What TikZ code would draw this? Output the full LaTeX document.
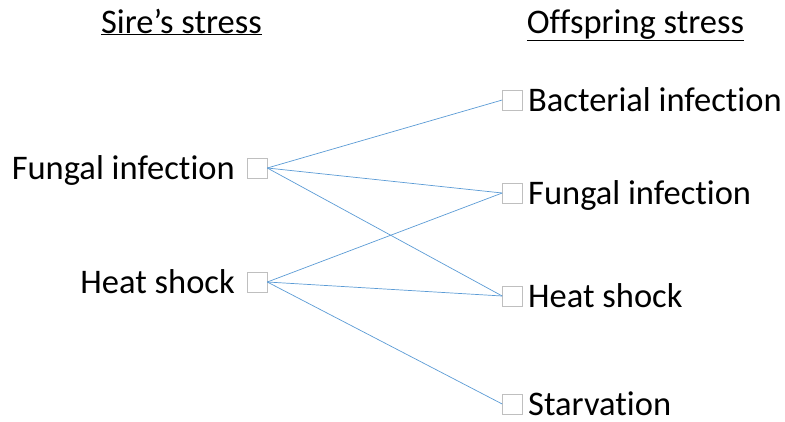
\documentclass[tikz,border=0pt]{standalone}
\usepackage{fontspec}
\setmainfont[Ligatures=NoCommon,RawFeature={-liga;-clig;-dlig;-calt}]{Carlito}
\begin{document}
\begin{tikzpicture}[x=1pt,y=-1pt,
  sq/.style={draw=black!25,fill=white,minimum size=20pt,inner sep=0pt,line width=0.6pt},
  lbl/.style={font=\fontsize{34.5}{40}\selectfont,inner sep=0pt,text depth=0pt},
  hdr/.style={font=\fontsize{34.5}{40}\selectfont,inner sep=0pt},
  conn/.style={draw={rgb,255:red,91;green,155;blue,213},line width=0.7pt}]
\useasboundingbox (0,0) rectangle (785,421);
\node[hdr,anchor=base] (h1) at (181.5,33) {\underline{Sire’s stress}};
\node[hdr,anchor=base] (h2) at (635.5,33) {\underline{Offspring stress}};
\node[sq] (lf) at (257,168) {};
\node[sq] (lh) at (257,282) {};
\node[sq] (rb) at (512.5,100) {};
\node[sq] (rf) at (512.5,193) {};
\node[sq] (rh) at (512.5,296) {};
\node[sq] (rs) at (512.5,404) {};
\node[lbl,anchor=base east] (tlf) at (235,179) {Fungal infection};
\node[lbl,anchor=base east] (tlh) at (235,293) {Heat shock};
\node[lbl,anchor=base west] (trb) at (528,111) {Bacterial infection};
\node[lbl,anchor=base west] (trf) at (528,204) {Fungal infection};
\node[lbl,anchor=base west] (trh) at (528,307) {Heat shock};
\node[lbl,anchor=base west] (trs) at (528,415) {Starvation};
\draw[conn] (lf.east) -- (rb.west);
\draw[conn] (lf.east) -- (rf.west);
\draw[conn] (lf.east) -- (rh.west);
\draw[conn] (lh.east) -- (rf.west);
\draw[conn] (lh.east) -- (rh.west);
\draw[conn] (lh.east) -- (rs.west);
\end{tikzpicture}
\end{document}
